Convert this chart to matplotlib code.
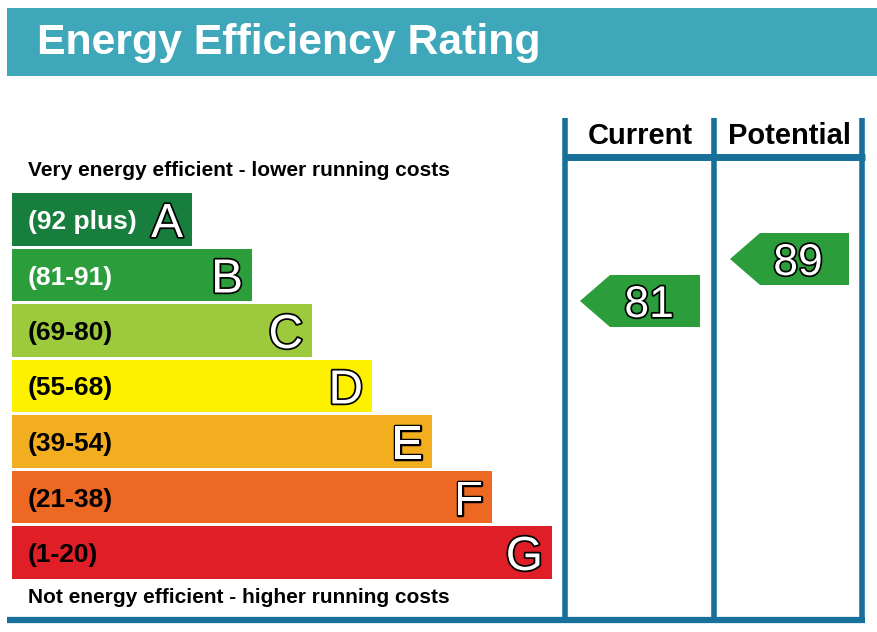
import matplotlib
matplotlib.use("Agg")
import matplotlib.pyplot as plt
from matplotlib.patches import Rectangle, Polygon
import matplotlib.patheffects as pe

plt.rcParams['font.family'] = ['Liberation Sans', 'DejaVu Sans']

# data
bands = ['A', 'B', 'C', 'D', 'E', 'F', 'G']
ranges = ['(92 plus)', '(81-91)', '(69-80)', '(55-68)', '(39-54)', '(21-38)', '(1-20)']
band_lo = [92, 81, 69, 55, 39, 21, 1]
band_hi = [100, 91, 80, 68, 54, 38, 20]
band_colors = ['#177e3e', '#2b9d3b', '#9dc93c', '#fef100', '#f3ae1f', '#ec6823', '#e01e27']
label_colors = ['white', 'white', 'black', 'black', 'black', 'black', 'black']
current = 81
potential = 89
arrow_color = '#2b9d3b'
line_color = '#16709a'

W, H = 878, 632
fig = plt.figure(figsize=(W / 100, H / 100), dpi=100)
ax = fig.add_axes([0, 0, 1, 1])
ax.set_xlim(0, W)
ax.set_ylim(H, 0)
ax.axis('off')

# header
ax.add_patch(Rectangle((7, 8), 870, 68, color='#3ea7b9', lw=0))
ax.text(37, 54, 'Energy Efficiency Rating', color='white', fontsize=30.8,
        fontweight='bold', va='baseline', ha='left')

ax.text(28, 176, 'Very energy efficient - lower running costs', fontsize=15,
        fontweight='bold', va='baseline')
ax.text(28, 603, 'Not energy efficient - higher running costs', fontsize=15,
        fontweight='bold', va='baseline')

top0, pitch, bh = 193, 55.5, 52.5
x0, w0, dw = 12, 180, 60
outline = [pe.withStroke(linewidth=2.5, foreground='black')]
for i, b in enumerate(bands):
    y = top0 + i * pitch
    w = w0 + i * dw
    ax.add_patch(Rectangle((x0, y), w, bh, color=band_colors[i], lw=0))
    ax.text(28, y + 36, ranges[i], color=label_colors[i], fontsize=19,
            fontweight='bold', va='baseline')
    ax.text(x0 + w - 9, y + 44, b, color='white', fontsize=34.5,
            va='baseline', ha='right', path_effects=outline)


def value_y(v):
    for i in range(len(bands)):
        if band_lo[i] <= v <= band_hi[i]:
            top = top0 + i * pitch
            return top + (band_hi[i] - v) / (band_hi[i] - band_lo[i]) * bh
    return top0


def arrow(xl, xr, v):
    yc = value_y(v)
    h2 = 26
    pts = [(xl, yc), (xl + 30, yc - h2), (xr, yc - h2), (xr, yc + h2), (xl + 30, yc + h2)]
    ax.add_patch(Polygon(pts, closed=True, color=arrow_color, lw=0))
    ax.text(xr - 51, yc + 16, str(v), color='white', fontsize=32, va='baseline',
            ha='center', path_effects=outline)


arrow(580, 700, current)
arrow(730, 849, potential)

# table lines
for x in [565.5, 714.5, 862.5]:
    ax.plot([x, x], [118, 620], color=line_color, lw=4, solid_capstyle='butt')
ax.plot([563, 865], [156.5, 156.5], color=line_color, lw=5, solid_capstyle='butt')
ax.plot([7, 865], [620, 620], color=line_color, lw=4.5, solid_capstyle='butt')
ax.text(640, 144, 'Current', fontsize=21, fontweight='bold', ha='center', va='baseline')
ax.text(790, 144, 'Potential', fontsize=21, fontweight='bold', ha='center', va='baseline')

fig.savefig('out.png', dpi=100)
